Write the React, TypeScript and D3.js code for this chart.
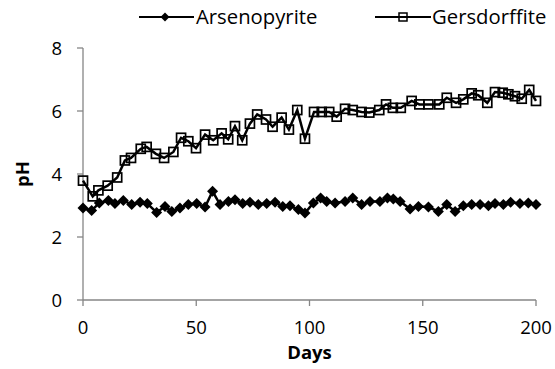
import React from "react";
import * as d3 from "d3";

const gersDays = [0, 4.3, 6.8, 10.9, 15.1, 18.5, 21.2, 25.5, 28.1, 32.2, 35.8, 39.9, 43.3, 46.5, 49.9, 53.9, 57.5, 61.2, 64.1, 67.1, 70.3, 73.7, 76.9, 80.8, 83.7, 87.7, 90.9, 94.6, 98, 102, 105.4, 108.7, 112, 115.7, 119.1, 123, 126.4, 130.8, 133.8, 136.8, 140.3, 145.1, 148.5, 152.5, 157.3, 160.6, 164.7, 167.9, 171.6, 174.5, 178.5, 181.9, 185.3, 187.8, 190.7, 193.7, 197, 200];
const gersPH = [3.79, 3.29, 3.48, 3.63, 3.89, 4.43, 4.51, 4.8, 4.86, 4.64, 4.51, 4.7, 5.15, 5.04, 4.82, 5.25, 5.07, 5.29, 5.1, 5.52, 5.07, 5.6, 5.89, 5.73, 5.5, 5.79, 5.41, 6.03, 5.12, 5.97, 5.97, 5.97, 5.82, 6.07, 6.03, 5.97, 5.95, 6.03, 6.21, 6.1, 6.1, 6.32, 6.21, 6.21, 6.21, 6.42, 6.26, 6.37, 6.56, 6.5, 6.26, 6.6, 6.58, 6.53, 6.47, 6.39, 6.67, 6.32];

const arsDays = [0, 3.8, 7.2, 11.2, 14.1, 17.8, 21.5, 25.2, 28.4, 32.5, 36.2, 39.2, 42.8, 46.5, 50.2, 53.9, 57.2, 60.5, 64.2, 67.1, 70.5, 73.7, 77.4, 81.1, 84.8, 88.2, 91.4, 95.1, 98, 101.7, 104.9, 107.6, 111.3, 115.7, 119.1, 123, 126.7, 131.1, 134.4, 137, 140, 144.4, 148.1, 152.5, 156.9, 160.6, 164.3, 167.9, 171.6, 175.3, 179, 181.9, 185.6, 188.8, 192.9, 196.6, 200];
const arsPH = [2.92, 2.84, 3.08, 3.16, 3.06, 3.16, 3.03, 3.1, 3.06, 2.78, 2.97, 2.81, 2.92, 3.03, 3.06, 2.95, 3.45, 3.03, 3.13, 3.18, 3.06, 3.1, 3.03, 3.06, 3.1, 2.97, 2.99, 2.87, 2.76, 3.08, 3.24, 3.13, 3.08, 3.13, 3.24, 3.03, 3.13, 3.13, 3.24, 3.21, 3.13, 2.89, 2.97, 2.95, 2.81, 3.03, 2.81, 2.99, 3.03, 3.03, 2.99, 3.06, 3.03, 3.1, 3.06, 3.08, 3.03];

const xTicks = [0, 50, 100, 150, 200];
const yTicks = [0, 2, 4, 6, 8];
const seriesNames = ["Arsenopyrite", "Gersdorffite"];

const FONT = "'Open Sans', Lato, sans-serif";
const AXIS = "#868686";

export default function App() {
  const x = d3.scaleLinear().domain([0, 200]).range([83, 536]);
  const y = d3.scaleLinear().domain([0, 8]).range([300, 48]);
  const line = d3.line<[number, number]>().x((d) => x(d[0])).y((d) => y(d[1]));
  const ars: [number, number][] = arsDays.map((d, i) => [d, arsPH[i]]);
  const gers: [number, number][] = gersDays.map((d, i) => [d, gersPH[i]]);
  const diamond = (cx: number, cy: number, r: number) =>
    `M${cx},${cy - r}L${cx + r},${cy}L${cx},${cy + r}L${cx - r},${cy}Z`;

  return (
    <svg width={555} height={369} style={{ position: "absolute", left: 0, top: 0, background: "#fff" }}>
      <rect width={555} height={369} fill="#fff" />
      {/* axes */}
      <line x1={x(0)} x2={x(0)} y1={y(8)} y2={y(0)} stroke={AXIS} strokeWidth={1.3} />
      <line x1={x(0)} x2={x(200)} y1={y(0)} y2={y(0)} stroke={AXIS} strokeWidth={1.3} />
      {yTicks.map((t) => (
        <g key={"y" + t}>
          <line x1={x(0) - 6} x2={x(0)} y1={y(t)} y2={y(t)} stroke={AXIS} strokeWidth={1.3} />
          <text x={x(0) - 21} y={y(t)} dy="0.36em" textAnchor="end" fontFamily={FONT} fontSize={18.5} fill="#000">
            {t}
          </text>
        </g>
      ))}
      {xTicks.map((t) => (
        <g key={"x" + t}>
          <line x1={x(t)} x2={x(t)} y1={y(0)} y2={y(0) + 6} stroke={AXIS} strokeWidth={1.3} />
          <text x={x(t)} y={y(0) + 27} dy="0.36em" textAnchor="middle" fontFamily={FONT} fontSize={18.5} fill="#000">
            {t}
          </text>
        </g>
      ))}
      <text x={x(100)} y={352} dy="0.36em" textAnchor="middle" fontFamily={FONT} fontSize={18.5} fontWeight="bold">
        Days
      </text>
      <text transform={`translate(22,${y(4)}) rotate(-90)`} dy="0.36em" textAnchor="middle" fontFamily={FONT} fontSize={18.5} fontWeight="bold">
        pH
      </text>
      {/* series */}
      <path d={line(ars) || ""} fill="none" stroke="#000" strokeWidth={2.5} />
      {ars.map((d, i) => (
        <path key={"a" + i} d={diamond(x(d[0]), y(d[1]), 5.5)} fill="#000" />
      ))}
      <path d={line(gers) || ""} fill="none" stroke="#000" strokeWidth={2.5} />
      {gers.map((d, i) => (
        <rect key={"g" + i} x={x(d[0]) - 4.5} y={y(d[1]) - 4.5} width={9} height={9} fill="none" stroke="#000" strokeWidth={1.7} />
      ))}
      {/* legend */}
      <line x1={139} x2={194} y1={17} y2={17} stroke="#000" strokeWidth={2.2} />
      <path d={diamond(165, 17, 4.5)} fill="#000" />
      <text x={196} y={17} dy="0.36em" fontFamily={FONT} fontSize={20.3}>{seriesNames[0]}</text>
      <line x1={375} x2={431} y1={17} y2={17} stroke="#000" strokeWidth={2.2} />
      <rect x={399} y={13} width={8} height={8} fill="none" stroke="#000" strokeWidth={1.5} />
      <text x={432} y={17} dy="0.36em" fontFamily={FONT} fontSize={20.3}>{seriesNames[1]}</text>
    </svg>
  );
}
